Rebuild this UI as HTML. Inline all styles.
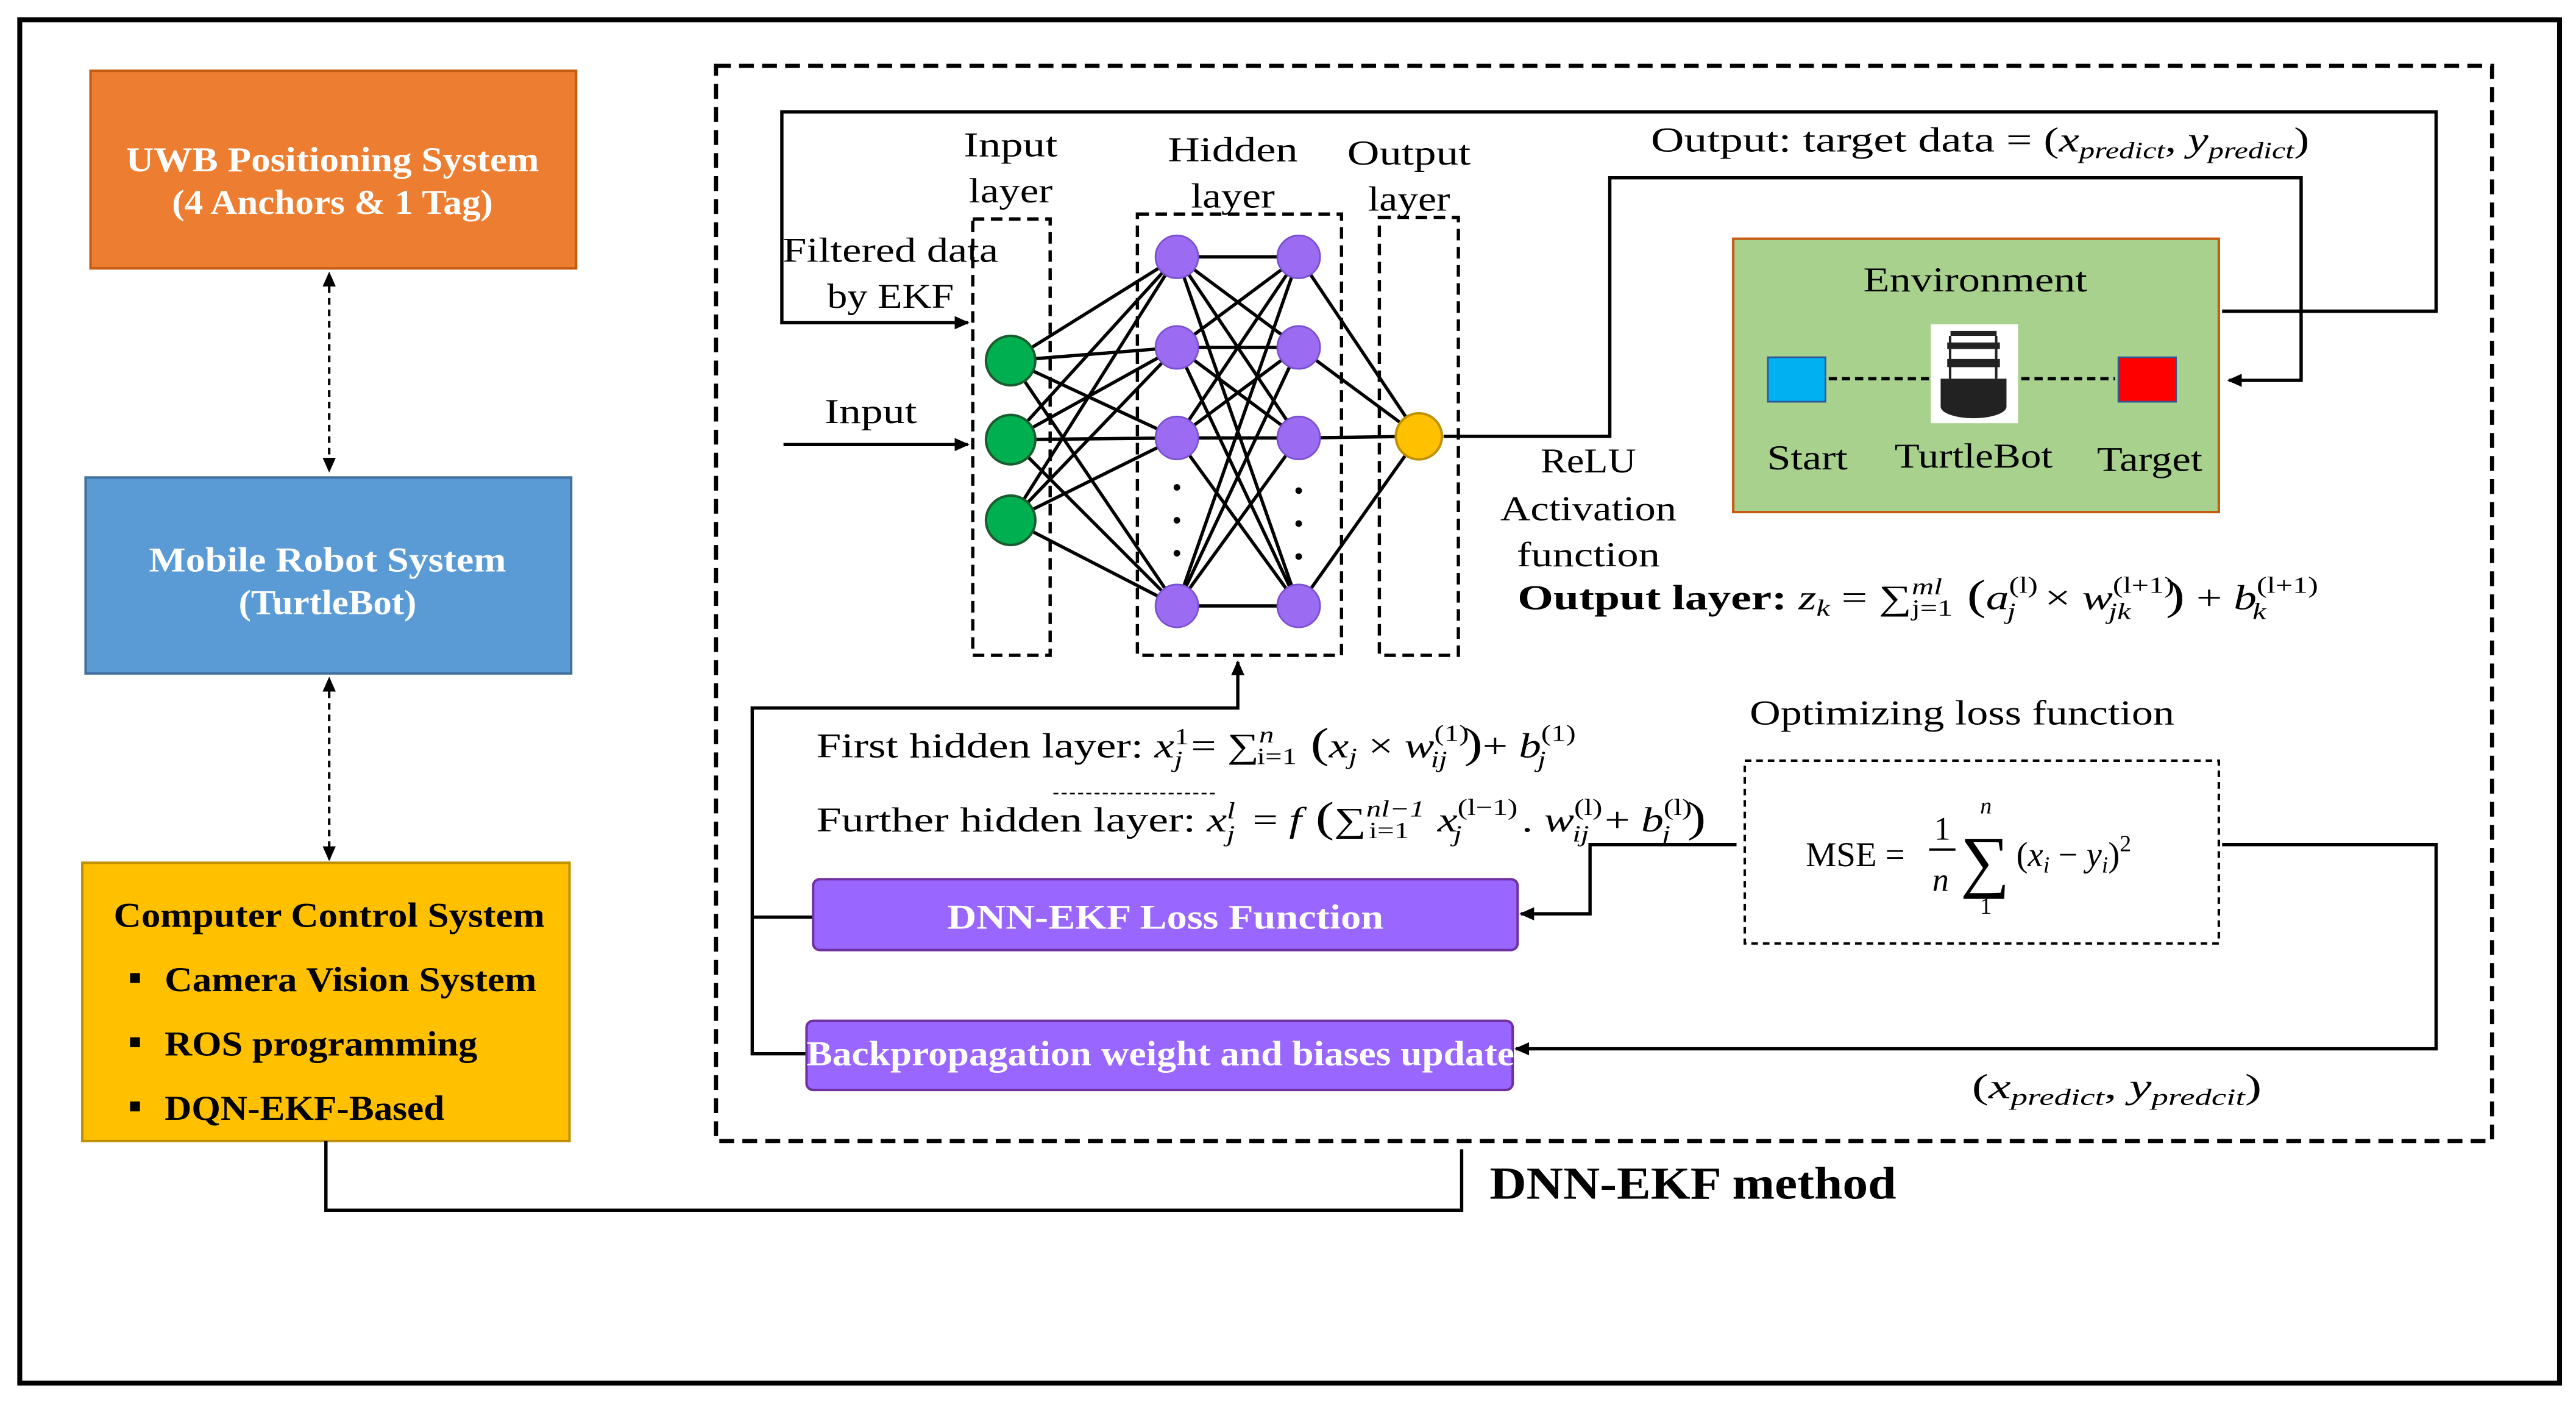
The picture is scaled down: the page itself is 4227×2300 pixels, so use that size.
<!DOCTYPE html>
<html><head><meta charset="utf-8"><style>
html,body{margin:0;padding:0;background:#fff;}
svg{display:block;}
text{font-family:"Liberation Serif",serif;}
</style></head><body>
<svg width="4227" height="2300" viewBox="0 0 1565 851.5" preserveAspectRatio="none" xmlns="http://www.w3.org/2000/svg">
<defs>
<marker id="ar" markerWidth="10" markerHeight="10" refX="8" refY="5" orient="auto" markerUnits="userSpaceOnUse"><path d="M0,1 L9,5 L0,9 z" fill="#000"/></marker>
<marker id="as" markerWidth="10" markerHeight="10" refX="2" refY="5" orient="auto" markerUnits="userSpaceOnUse"><path d="M9,1 L0,5 L9,9 z" fill="#000"/></marker>
</defs>
<rect x="0" y="0" width="1565" height="852" fill="#fff"/>
<rect x="12" y="12" width="1543" height="828" fill="none" stroke="#000" stroke-width="3"/>

<!-- Left boxes -->
<rect x="55" y="43" width="295" height="120" fill="#ED7D31" stroke="#C55A11" stroke-width="1.5"/>
<text x="202" y="104" font-size="21" font-weight="bold" fill="#fff" text-anchor="middle" textLength="251" lengthAdjust="spacingAndGlyphs">UWB Positioning System</text>
<text x="202" y="130" font-size="21" font-weight="bold" fill="#fff" text-anchor="middle" textLength="195" lengthAdjust="spacingAndGlyphs">(4 Anchors &amp; 1 Tag)</text>
<line x1="200" y1="167" x2="200" y2="286" stroke="#000" stroke-width="1.5" stroke-dasharray="4,3" marker-start="url(#as)" marker-end="url(#ar)"/>
<rect x="52" y="290" width="295" height="119" fill="#5B9BD5" stroke="#41719C" stroke-width="1.5"/>
<text x="199" y="347" font-size="21" font-weight="bold" fill="#fff" text-anchor="middle" textLength="217" lengthAdjust="spacingAndGlyphs">Mobile Robot System</text>
<text x="199" y="373" font-size="21" font-weight="bold" fill="#fff" text-anchor="middle" textLength="108" lengthAdjust="spacingAndGlyphs">(TurtleBot)</text>
<line x1="200" y1="413" x2="200" y2="522" stroke="#000" stroke-width="1.5" stroke-dasharray="4,3" marker-start="url(#as)" marker-end="url(#ar)"/>
<rect x="50" y="524" width="296" height="169" fill="#FFC000" stroke="#BF9000" stroke-width="1.5"/>
<text x="200" y="563" font-size="21" font-weight="bold" fill="#000" text-anchor="middle" textLength="262" lengthAdjust="spacingAndGlyphs">Computer Control System</text>
<g font-size="21" font-weight="bold" fill="#000">
<rect x="79" y="591" width="6" height="6"/><text x="100" y="602" textLength="226" lengthAdjust="spacingAndGlyphs">Camera Vision System</text>
<rect x="79" y="630" width="6" height="6"/><text x="100" y="641" textLength="190" lengthAdjust="spacingAndGlyphs">ROS programming</text>
<rect x="79" y="669" width="6" height="6"/><text x="100" y="680" textLength="170" lengthAdjust="spacingAndGlyphs">DQN-EKF-Based</text>
</g>
<polyline points="198,693 198,735 888,735 888,698" fill="none" stroke="#000" stroke-width="2"/>
<text x="905" y="728" font-size="28" font-weight="bold" textLength="247" lengthAdjust="spacingAndGlyphs">DNN-EKF method</text>

<!-- Main dashed region -->
<rect x="435" y="40" width="1079" height="653" fill="none" stroke="#000" stroke-width="2.5" stroke-dasharray="9,5"/>

<polyline points="1350,189 1480,189 1480,68 475,68 475,196 588,196" fill="none" stroke="#000" stroke-width="2" marker-end="url(#ar)"/>
<line x1="476" y1="270" x2="588" y2="270" stroke="#000" stroke-width="2" marker-end="url(#ar)"/>

<g font-size="21" text-anchor="middle" lengthAdjust="spacingAndGlyphs">
<text x="614" y="95" textLength="57" lengthAdjust="spacingAndGlyphs">Input</text>
<text x="614" y="123" textLength="51" lengthAdjust="spacingAndGlyphs">layer</text>
<text x="749" y="98" textLength="79" lengthAdjust="spacingAndGlyphs">Hidden</text>
<text x="749" y="126" textLength="51" lengthAdjust="spacingAndGlyphs">layer</text>
<text x="856" y="100" textLength="75" lengthAdjust="spacingAndGlyphs">Output</text>
<text x="856" y="128" textLength="50" lengthAdjust="spacingAndGlyphs">layer</text>
<text x="541" y="159" textLength="131" lengthAdjust="spacingAndGlyphs">Filtered data</text>
<text x="541" y="187" textLength="77" lengthAdjust="spacingAndGlyphs">by EKF</text>
<text x="529" y="257" textLength="56" lengthAdjust="spacingAndGlyphs">Input</text>
</g>

<rect x="591" y="133" width="47" height="265" fill="none" stroke="#000" stroke-width="2" stroke-dasharray="7,4"/>
<rect x="691" y="130" width="124" height="268" fill="none" stroke="#000" stroke-width="2" stroke-dasharray="7,4"/>
<rect x="838" y="132" width="48" height="266" fill="none" stroke="#000" stroke-width="2" stroke-dasharray="7,4"/>

<g stroke="#000" stroke-width="2">
<line x1="614" y1="219" x2="715" y2="156"/><line x1="614" y1="219" x2="715" y2="211"/><line x1="614" y1="219" x2="715" y2="266"/><line x1="614" y1="219" x2="715" y2="368"/>
<line x1="614" y1="267" x2="715" y2="156"/><line x1="614" y1="267" x2="715" y2="211"/><line x1="614" y1="267" x2="715" y2="266"/><line x1="614" y1="267" x2="715" y2="368"/>
<line x1="614" y1="316" x2="715" y2="156"/><line x1="614" y1="316" x2="715" y2="211"/><line x1="614" y1="316" x2="715" y2="266"/><line x1="614" y1="316" x2="715" y2="368"/>
<line x1="715" y1="156" x2="789" y2="156"/><line x1="715" y1="156" x2="789" y2="211"/><line x1="715" y1="156" x2="789" y2="266"/><line x1="715" y1="156" x2="789" y2="368"/>
<line x1="715" y1="211" x2="789" y2="156"/><line x1="715" y1="211" x2="789" y2="211"/><line x1="715" y1="211" x2="789" y2="266"/><line x1="715" y1="211" x2="789" y2="368"/>
<line x1="715" y1="266" x2="789" y2="156"/><line x1="715" y1="266" x2="789" y2="211"/><line x1="715" y1="266" x2="789" y2="266"/><line x1="715" y1="266" x2="789" y2="368"/>
<line x1="715" y1="368" x2="789" y2="156"/><line x1="715" y1="368" x2="789" y2="211"/><line x1="715" y1="368" x2="789" y2="266"/><line x1="715" y1="368" x2="789" y2="368"/>
<line x1="789" y1="156" x2="862" y2="265"/><line x1="789" y1="211" x2="862" y2="265"/><line x1="789" y1="266" x2="862" y2="265"/><line x1="789" y1="368" x2="862" y2="265"/>
</g>
<g fill="#00B050" stroke="#1a5c2e" stroke-width="1.5">
<circle cx="614" cy="219" r="15"/><circle cx="614" cy="267" r="15"/><circle cx="614" cy="316" r="15"/>
</g>
<g fill="#9B6BF2" stroke="#7a4fd0" stroke-width="1">
<circle cx="715" cy="156" r="13"/><circle cx="715" cy="211" r="13"/><circle cx="715" cy="266" r="13"/><circle cx="715" cy="368" r="13"/>
<circle cx="789" cy="156" r="13"/><circle cx="789" cy="211" r="13"/><circle cx="789" cy="266" r="13"/><circle cx="789" cy="368" r="13"/>
</g>
<g fill="#000">
<circle cx="715" cy="296" r="2"/><circle cx="715" cy="316" r="2"/><circle cx="715" cy="336" r="2"/>
<circle cx="789" cy="298" r="2"/><circle cx="789" cy="318" r="2"/><circle cx="789" cy="338" r="2"/>
</g>
<circle cx="862" cy="265" r="14" fill="#FFC000" stroke="#BF9000" stroke-width="1.5"/>

<polyline points="877,265 978,265 978,108 1398,108 1398,231 1354,231" fill="none" stroke="#000" stroke-width="2" marker-end="url(#ar)"/>
<g transform="translate(1003,0) scale(1.33,1) translate(-1003,0)">
<text x="1003" y="92" font-size="21">Output: target data = (<tspan font-style="italic">x</tspan><tspan font-size="14" font-style="italic" dy="4">predict</tspan><tspan dy="-4">, </tspan><tspan font-style="italic">y</tspan><tspan font-size="14" font-style="italic" dy="4">predict</tspan><tspan dy="-4">)</tspan></text>
</g>

<rect x="1053" y="145" width="295" height="166" fill="#A9D18E" stroke="#C55A11" stroke-width="1.5"/>
<text x="1200" y="177" font-size="21" text-anchor="middle" textLength="136" lengthAdjust="spacingAndGlyphs">Environment</text>
<rect x="1074" y="217" width="35" height="27" fill="#00B0F0" stroke="#2F5597" stroke-width="1"/>
<rect x="1287" y="217" width="35" height="27" fill="#FF0000" stroke="#2F5597" stroke-width="1"/>
<line x1="1111" y1="230" x2="1172" y2="230" stroke="#000" stroke-width="2" stroke-dasharray="5,3"/>
<line x1="1228" y1="230" x2="1285" y2="230" stroke="#000" stroke-width="2" stroke-dasharray="5,3"/>
<rect x="1173" y="197" width="53" height="60" fill="#fff"/>
<g fill="#222">
<ellipse cx="1199" cy="247" rx="20" ry="7"/>
<rect x="1179" y="230" width="40" height="17"/>
<rect x="1183" y="218" width="32" height="5"/>
<rect x="1183" y="208" width="32" height="4"/>
<rect x="1185" y="201" width="28" height="3"/>
<rect x="1184" y="204" width="1.5" height="26"/><rect x="1212" y="204" width="1.5" height="26"/>
</g>
<g font-size="21" text-anchor="middle">
<text x="1098" y="285" textLength="49" lengthAdjust="spacingAndGlyphs">Start</text>
<text x="1199" y="284" textLength="96" lengthAdjust="spacingAndGlyphs">TurtleBot</text>
<text x="1306" y="286" textLength="64" lengthAdjust="spacingAndGlyphs">Target</text>
<text x="965" y="287" textLength="58" lengthAdjust="spacingAndGlyphs">ReLU</text>
<text x="965" y="316" textLength="107" lengthAdjust="spacingAndGlyphs">Activation</text>
<text x="965" y="344" textLength="87" lengthAdjust="spacingAndGlyphs">function</text>
</g>
<g transform="translate(922,0) scale(1.33,1) translate(-922,0)">
<text x="922" y="370" font-size="21"><tspan font-weight="bold">Output layer: </tspan><tspan font-style="italic">z</tspan><tspan font-size="14" font-style="italic" dy="4">k</tspan><tspan dy="-4"> = ∑</tspan><tspan font-size="14" font-style="italic" dy="-9">ml</tspan><tspan font-size="14" dx="-14" dy="13">j=1</tspan><tspan font-size="26" dy="-4"> (</tspan><tspan font-style="italic">a</tspan><tspan font-size="14" dy="-10">(l)</tspan><tspan font-size="14" font-style="italic" dx="-14" dy="16">j</tspan><tspan dx="8" dy="-6"> × </tspan><tspan font-style="italic">w</tspan><tspan font-size="14" dy="-10">(l+1)</tspan><tspan font-size="14" font-style="italic" dx="-30" dy="16">jk</tspan><tspan font-size="26" dx="16" dy="-6">)</tspan><tspan> +  </tspan><tspan font-style="italic">b</tspan><tspan font-size="14" dy="-10">(l+1)</tspan><tspan font-size="14" font-style="italic" dx="-30" dy="16">k</tspan></text>
</g>

<polyline points="490,640 457,640 457,430 752,430 752,402" fill="none" stroke="#000" stroke-width="2" marker-end="url(#ar)"/>
<line x1="457" y1="557" x2="494" y2="557" stroke="#000" stroke-width="2"/>

<g transform="translate(496,0) scale(1.29,1) translate(-496,0)">
<text x="496" y="460" font-size="21">First hidden layer: <tspan font-style="italic">x</tspan><tspan font-size="14" dy="-8">1</tspan><tspan font-size="14" font-style="italic" dx="-7" dy="14">j</tspan><tspan dx="4" dy="-6">= ∑</tspan><tspan font-size="14" font-style="italic" dy="-9">n</tspan><tspan font-size="14" dx="-8" dy="13">i=1</tspan><tspan font-size="26" dy="-4"> (</tspan><tspan font-style="italic">x</tspan><tspan font-size="14" font-style="italic" dy="4">j</tspan><tspan dy="-4"> × </tspan><tspan font-style="italic">w</tspan><tspan font-size="14" dy="-10">(1)</tspan><tspan font-size="14" font-style="italic" dx="-18" dy="16">ij</tspan><tspan font-size="26" dx="8" dy="-6">)</tspan><tspan>+ </tspan><tspan font-style="italic">b</tspan><tspan font-size="14" dy="-10">(1)</tspan><tspan font-size="14" font-style="italic" dx="-18" dy="16">j</tspan></text>
</g>
<line x1="640" y1="482" x2="740" y2="482" stroke="#000" stroke-width="1" stroke-dasharray="3,2"/>
<g transform="translate(496,0) scale(1.3,1) translate(-496,0)">
<text x="496" y="505" font-size="21">Further hidden layer: <tspan font-style="italic">x</tspan><tspan font-size="14" font-style="italic" dy="-8">l</tspan><tspan font-size="14" font-style="italic" dx="-4" dy="14">j</tspan><tspan dx="3" dy="-6"> = </tspan><tspan font-style="italic">f</tspan><tspan font-size="26"> (</tspan><tspan>∑</tspan><tspan font-size="14" font-style="italic" dy="-9">nl−1</tspan><tspan font-size="14" dx="-26" dy="13">i=1</tspan><tspan dx="8" dy="-4"> </tspan><tspan font-style="italic">x</tspan><tspan font-size="14" dy="-10">(l−1)</tspan><tspan font-size="14" font-style="italic" dx="-30" dy="16">j</tspan><tspan dx="28" dy="-6">. </tspan><tspan font-style="italic">w</tspan><tspan font-size="14" dy="-10">(l)</tspan><tspan font-size="14" font-style="italic" dx="-14" dy="16">ij</tspan><tspan dx="2" dy="-6"> + </tspan><tspan font-style="italic">b</tspan><tspan font-size="14" dy="-10">(l)</tspan><tspan font-size="14" font-style="italic" dx="-14" dy="16">j</tspan><tspan font-size="26" dx="8" dy="-6">)</tspan></text>
</g>

<text x="1063" y="440" font-size="21" textLength="258" lengthAdjust="spacingAndGlyphs">Optimizing loss function</text>
<rect x="1060" y="462" width="288" height="111" fill="none" stroke="#000" stroke-width="1.5" stroke-dasharray="4,3"/>
<text x="1097" y="526" font-size="21">MSE =</text>
<text x="1175" y="510" font-size="20">1</text>
<line x1="1172" y1="516" x2="1188" y2="516" stroke="#000" stroke-width="1.5"/>
<text x="1174" y="541" font-size="20" font-style="italic">n</text>
<text x="1191" y="537" font-size="42">∑</text>
<text x="1203" y="494" font-size="14" font-style="italic">n</text>
<text x="1203" y="555" font-size="14">1</text>
<text x="1225" y="526" font-size="21">(<tspan font-style="italic">x</tspan><tspan font-size="14" font-style="italic" dy="4">i</tspan><tspan dy="-4"> − </tspan><tspan font-style="italic">y</tspan><tspan font-size="14" font-style="italic" dy="4">i</tspan><tspan dy="-4">)</tspan><tspan font-size="14" dy="-9">2</tspan></text>

<rect x="494" y="534" width="428" height="43" rx="4" fill="#9966FF" stroke="#7030A0" stroke-width="1.5"/>
<text x="708" y="564" font-size="21" font-weight="bold" fill="#fff" text-anchor="middle" textLength="265" lengthAdjust="spacingAndGlyphs">DNN-EKF Loss Function</text>
<polyline points="1055,513 966,513 966,555 924,555" fill="none" stroke="#000" stroke-width="2" marker-end="url(#ar)"/>

<rect x="490" y="620" width="429" height="42" rx="4" fill="#9966FF" stroke="#7030A0" stroke-width="1.5"/>
<text x="705" y="647" font-size="21" font-weight="bold" fill="#fff" text-anchor="middle" textLength="430" lengthAdjust="spacingAndGlyphs">Backpropagation weight and biases update</text>
<polyline points="1350,513 1480,513 1480,637 921,637" fill="none" stroke="#000" stroke-width="2" marker-end="url(#ar)"/>
<g transform="translate(1198,0) scale(1.45,1) translate(-1198,0)">
<text x="1198" y="667" font-size="21">(<tspan font-style="italic">x</tspan><tspan font-size="14" font-style="italic" dy="4">predict</tspan><tspan dy="-4">, </tspan><tspan font-style="italic">y</tspan><tspan font-size="14" font-style="italic" dy="4">predcit</tspan><tspan dy="-4">)</tspan></text>
</g>
</svg>
</body></html>
